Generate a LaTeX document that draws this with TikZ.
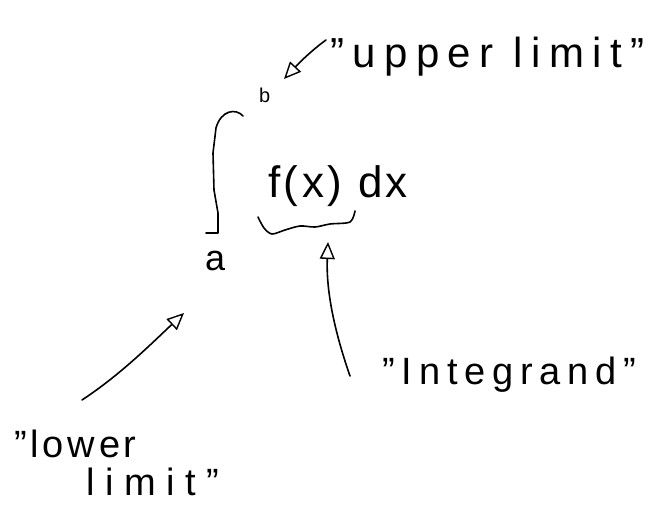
\documentclass[tikz,border=0pt]{standalone}
\usepackage{fontspec}
\setmainfont{Liberation Sans}
\usetikzlibrary{arrows.meta}
\newcommand{\sq}{\char"22\relax}
\begin{document}
\begin{tikzpicture}[x=1pt,y=-1pt,
  ink/.style={line width=1.6pt, line cap=round, line join=round, black},
  pointer/.style={ink, -{Triangle[open, length=17pt, width=15pt, line width=1.4pt]}},
  hand/.style={inner sep=0pt, anchor=base west, text=black},
]
\useasboundingbox[fill=white] (0,0) rectangle (662,518);

% labels
\node[hand, font=\fontsize{42}{44}\selectfont\addfontfeature{LetterSpace=20}] (upq) at (330,68) {\sq upper limit\sq};
\node[hand, font=\fontsize{38}{40}\selectfont\addfontfeature{LetterSpace=18}] (intq) at (382,385) {\sq Integrand\sq};
\node[hand, font=\fontsize{38}{40}\selectfont\addfontfeature{LetterSpace=10}] (lowq) at (14,458) {\sq lower};
\node[hand, font=\fontsize{38}{40}\selectfont\addfontfeature{LetterSpace=28}] (limq) at (86,496) {limit\sq};

% the integral and its parts
\node[hand, font=\fontsize{44}{46}\selectfont\addfontfeature{LetterSpace=8}] (fx) at (268,198) {f(x) dx};
\node[hand, font=\fontsize{36}{38}\selectfont] (a) at (205,271) {a};
\node[hand, font=\fontsize{20}{22}\selectfont] (b) at (259,103) {b};

% integral sign
\draw[ink] (243,116) .. controls (236,108) and (221,110) .. (216,128)
  -- (213,153) -- (214,190) -- (218,213) -- (218,233) -- (206,233);

% brace under the integrand
\draw[ink] plot[smooth] coordinates {(258,217) (264,228) (272,234) (285,230)
  (300,226) (315,227) (330,224) (350,222) (355,211)};

% pointer ends
\coordinate (upTail) at (326,40);
\coordinate (upTip) at (284,79);
\coordinate (intTail) at (350,376);
\coordinate (intTip) at (328,242);
\coordinate (lowTail) at (82,400);
\coordinate (lowTip) at (184,313);

\draw[pointer] (upTail) .. controls (312,50) and (298,64) .. (upTip);
\draw[pointer] (intTail) .. controls (334,330) and (326,290) .. (intTip);
\draw[pointer] (lowTail) .. controls (120,375) and (150,345) .. (lowTip);
\end{tikzpicture}
\end{document}
